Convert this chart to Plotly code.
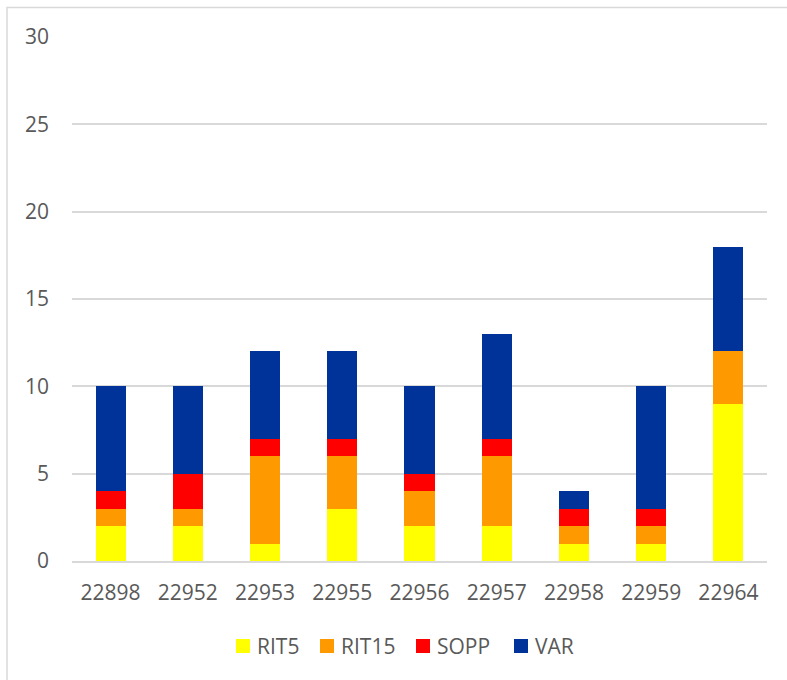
import plotly.graph_objects as go

categories = ["22898", "22952", "22953", "22955", "22956", "22957", "22958", "22959", "22964"]
rit5 = [2, 2, 1, 3, 2, 2, 1, 1, 9]
rit15 = [1, 1, 5, 3, 2, 4, 1, 1, 3]
sopp = [1, 2, 1, 1, 1, 1, 1, 1, 0]
var = [6, 5, 5, 5, 5, 6, 1, 7, 6]
y_ticks = [0, 5, 10, 15, 20, 25, 30]

series_names = ["RIT5", "RIT15", "SOPP", "VAR"]
series_values = [rit5, rit15, sopp, var]
series_colors = ["#FFFF00", "#FF9900", "#FF0000", "#003399"]

fig = go.Figure()
for name, vals, col in zip(series_names, series_values, series_colors):
    fig.add_trace(go.Bar(x=categories, y=vals, name=name, showlegend=False,
                         marker=dict(color=col, line=dict(width=0))))

W, H = 787, 680
L, R, T, B = 72, 20, 37, 119
pw, ph = W - L - R, H - T - B

def px_x(px):
    return (px - L) / pw

def px_y(py):
    return (H - B - py) / ph

FS = 21
FONT = "Open Sans, Liberation Sans, sans-serif"

shapes = [dict(type="rect", xref="paper", yref="paper",
               x0=px_x(7), x1=px_x(W + 10), y0=px_y(H + 10), y1=px_y(7.5),
               line=dict(color="#D9D9D9", width=1.5), fillcolor="rgba(0,0,0,0)",
               layer="below")]
annotations = []
# custom legend (layout positions)
legend_square_left = [236, 320, 416, 514]
sq = 14
ly = 646
for name, col, lx in zip(series_names, series_colors, legend_square_left):
    shapes.append(dict(type="rect", xref="paper", yref="paper",
                       x0=px_x(lx), x1=px_x(lx + sq), y0=px_y(ly + sq / 2), y1=px_y(ly - sq / 2),
                       line=dict(width=0), fillcolor=col))
    annotations.append(dict(text=name, xref="paper", yref="paper", x=px_x(lx + sq + 5),
                            y=px_y(ly), xanchor="left", yanchor="middle", showarrow=False,
                            font=dict(family=FONT, size=FS, color="#595959")))

fig.update_layout(
    width=W, height=H,
    barmode="stack", bargap=0.61,
    margin=dict(l=L, r=R, t=T, b=B, autoexpand=False),
    paper_bgcolor="white", plot_bgcolor="white",
    font=dict(family=FONT, size=FS, color="#595959"),
    xaxis=dict(showgrid=False, showline=True, linecolor="#D9D9D9", linewidth=1.5,
               ticks="", tickfont=dict(size=FS, color="#595959"), ticklabelstandoff=12,
               automargin=False),
    yaxis=dict(range=[0, 30], tickvals=y_ticks, showgrid=True, gridcolor="#D9D9D9",
               gridwidth=1.5, zeroline=False, showline=False, ticks="",
               tickfont=dict(size=FS, color="#595959"), ticklabelstandoff=22,
               automargin=False),
    showlegend=False,
    shapes=shapes,
    annotations=annotations,
)

fig.write_html("out.html", config={"displayModeBar": False},
               post_script="document.body.style.margin='0';document.body.style.overflow='hidden';")
